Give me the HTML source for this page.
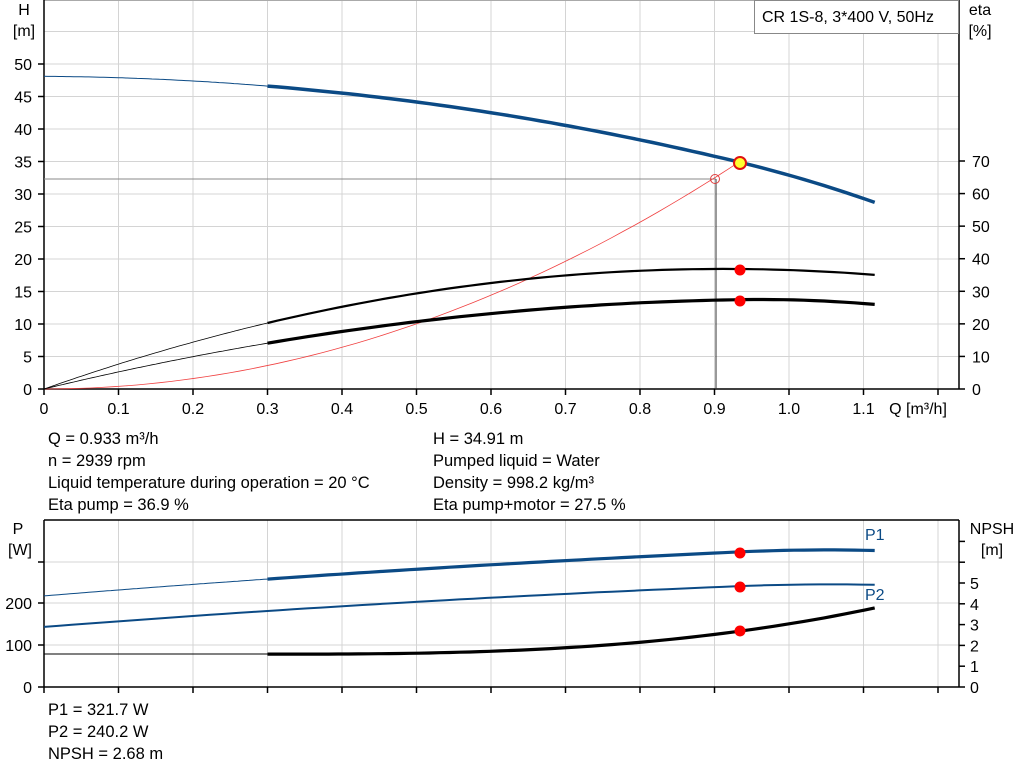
<!DOCTYPE html>
<html><head><meta charset="utf-8"><style>
body{margin:0;background:#fff;width:1024px;height:781px;overflow:hidden;font-family:"Liberation Sans",sans-serif}
svg text{font-family:"Liberation Sans",sans-serif;font-size:16px;fill:#000}
.t{position:absolute;font-size:16.5px;line-height:22px}
</style></head><body>
<svg id="s" width="1024" height="781" style="position:absolute;left:0;top:0"></svg>
<div class="t" style="left:48px;top:428px">Q = 0.933 m³/h<br>n = 2939 rpm<br>Liquid temperature during operation = 20 °C<br>Eta pump = 36.9 %</div>
<div class="t" style="left:433px;top:428px">H = 34.91 m<br>Pumped liquid = Water<br>Density = 998.2 kg/m³<br>Eta pump+motor = 27.5 %</div>
<div class="t" style="left:48px;top:699px">P1 = 321.7 W<br>P2 = 240.2 W<br>NPSH = 2.68 m</div>
<script>
var s='';
function X(q){return 44+q*745}
function YH(h){return 389-h*6.5}
function YP(p){return 687-p*0.42}
function YN(n){return 687-n*20.8}
function L(x1,y1,x2,y2,c,w){s+='<line x1="'+x1+'" y1="'+y1+'" x2="'+x2+'" y2="'+y2+'" stroke="'+c+'" stroke-width="'+w+'"/>'}
function T(x,y,t,a){s+='<text x="'+x+'" y="'+y+'" text-anchor="'+(a||'middle')+'">'+t+'</text>'}
function P(f,yf,a,b,c,w){var d='';for(var i=0;i<=60;i++){var q=a+(b-a)*i/60;d+=(i?'L':'M')+X(q).toFixed(1)+' '+yf(f(q)).toFixed(1)}s+='<path d="'+d+'" fill="none" stroke="'+c+'" stroke-width="'+w+'"/>'}
function pen(q,k){return q>0.933?k*(q-0.933)*(q-0.933):0}
for(var i=1;i<=12;i++)L(X(i/10),0,X(i/10),389,'#d4d4d4',1);
for(var h=5;h<=55;h+=5)L(44,YH(h),959,YH(h),'#d4d4d4',1);
L(44,0.5,959,0.5,'#aaa',1);
for(var i=1;i<=12;i++)L(X(i/10),520,X(i/10),687,'#d4d4d4',1);
[645,603,562].forEach(function(y){L(44,y,959,y,'#d4d4d4',1)});
L(44,520,959,520,'#000',1.5);
L(44,0,44,389,'#000',1.5);L(959,0,959,389,'#000',1.5);L(44,389,959,389,'#000',1.5);
for(var h=0;h<=50;h+=5){L(38,YH(h),44,YH(h),'#000',1.5);T(32,YH(h)+6,h,'end')}
for(var e=0;e<=70;e+=10){var y=389-e*3.257;L(959,y,965,y,'#000',1.5);T(972,y+6,e,'start')}
for(var i=0;i<=12;i++){L(X(i/10),389,X(i/10),395,'#000',1.5);if(i<=11)T(X(i/10),414,i==0?'0':(i/10).toFixed(1))}
T(918,414,'Q [m³/h]');
T(24,15,'H');T(24,36,'[m]');T(980,15,'eta');T(980,36,'[%]');
s+='<rect x="754.5" y="0.5" width="204" height="33" fill="#fff" stroke="#888"/>';T(762,22,'CR 1S-8, 3*400 V, 50Hz','start');
L(44,520,44,687,'#000',1.5);L(959,520,959,687,'#000',1.5);L(44,687,959,687,'#000',1.5);
[[0,687],[100,645],[200,603],[0,562]].forEach(function(a,k){L(38,a[1],44,a[1],'#000',1.5);if(k<3)T(32,a[1]+6,a[0],'end')});
for(var n=0;n<=7;n++){var y=YN(n);L(959,y,965,y,'#000',1.5);if(n<=5)T(970,y+6,n,'start')}
for(var i=0;i<=12;i++)L(X(i/10),687,X(i/10),693,'#000',1.5);
T(18,534,'P');T(20,555,'[W]');T(992,534,'NPSH');T(992,555,'[m]');
function H(q){return 48.1-0.668*q-14.44*q*q-pen(q,21)}
function E1(q){return (81*q-44.4*q*q)/2}
function E2(q){return (55.3*q-27.7*q*q)/2-pen(q,18)}
L(44,179,716,179,'#888',1);
P(function(q){return 40.1*q*q},YH,0,0.933,'#f04040',0.8);
L(716,179,716,389,'#333',1);
P(H,YH,0,0.3,'#0b4a85',1);P(H,YH,0.3,1.115,'#0b4a85',3.5);
P(E1,YH,0,0.3,'#000',0.8);P(E1,YH,0.3,1.115,'#000',2.2);
P(E2,YH,0,0.3,'#000',0.8);P(E2,YH,0.3,1.115,'#000',3.2);
s+='<circle cx="715" cy="179" r="4.5" fill="none" stroke="#e04040"/>';
s+='<circle cx="740" cy="163" r="6" fill="#ffff30" stroke="#e01010" stroke-width="2"/>';
s+='<circle cx="740" cy="270" r="5.5" fill="#f00"/><circle cx="740" cy="301" r="5.5" fill="#f00"/>';
function P1(q){return 217+143.3*q-33.4*q*q-pen(q,310)}
function P2(q){return 143+137.5*q-35.9*q*q-pen(q,250)}
function N(q){return q<0.3?1.58:1.58+1.1*Math.pow((q-0.3)/0.633,2.78)}
P(P1,YP,0,0.3,'#0b4a85',1);P(P1,YP,0.3,1.115,'#0b4a85',3.2);
P(P2,YP,0,1.115,'#0b4a85',2);
L(44,654,268,654,'#000',1);P(N,YN,0.3,1.115,'#000',3.2);
s+='<circle cx="740" cy="553" r="5.5" fill="#f00"/><circle cx="740" cy="587" r="5.5" fill="#f00"/><circle cx="740" cy="631" r="5.5" fill="#f00"/>';
s+='<text x="865" y="540" style="fill:#0b4a85">P1</text><text x="865" y="600" style="fill:#0b4a85">P2</text>';
document.getElementById('s').innerHTML=s;
</script>
</body></html>
